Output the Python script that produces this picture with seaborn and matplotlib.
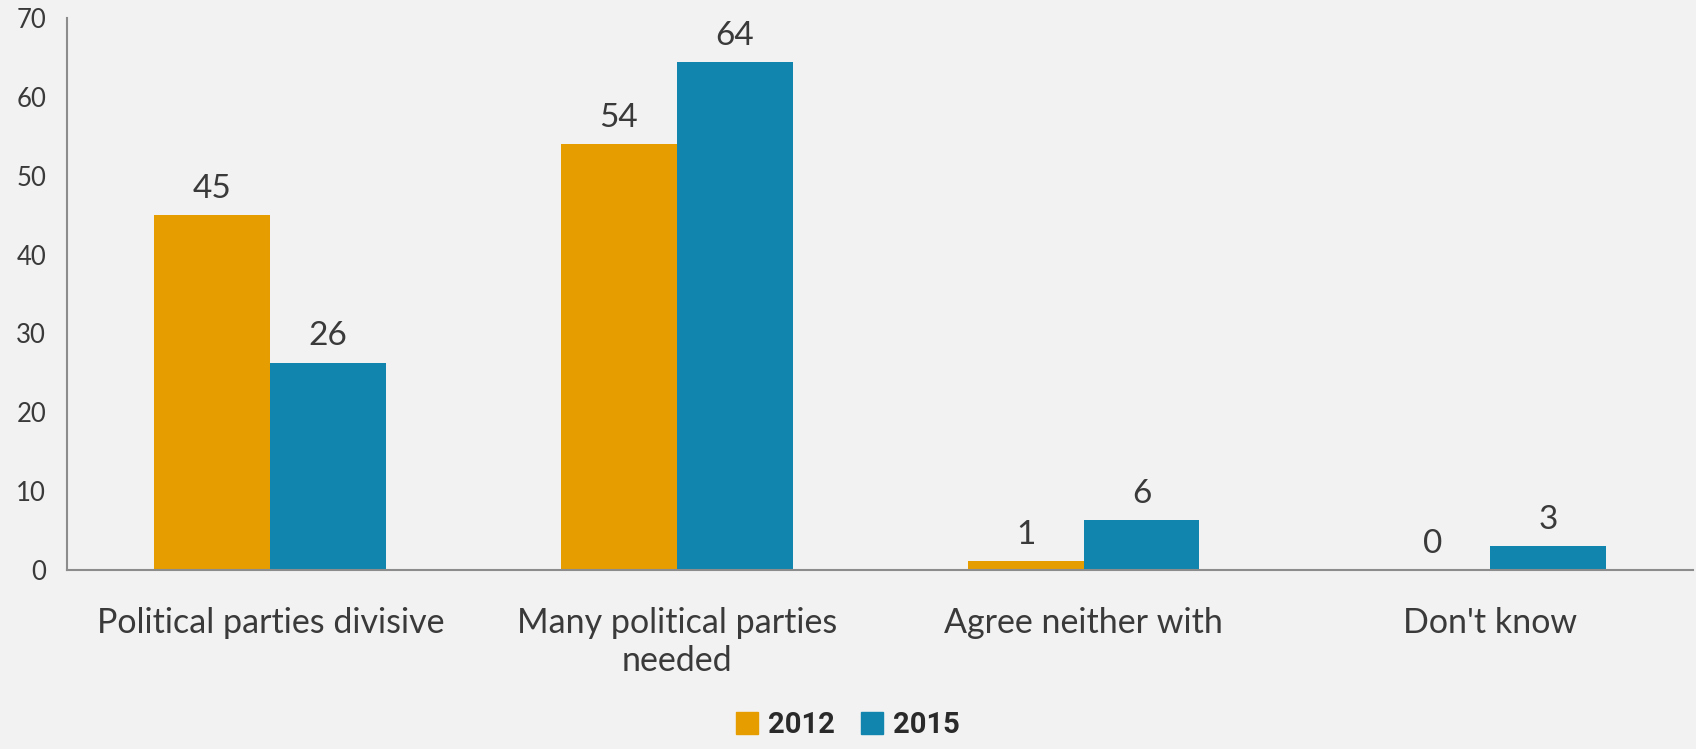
import matplotlib
matplotlib.use("Agg")
import matplotlib.pyplot as plt
import seaborn as sns
import pandas as pd

categories = ["Political parties divisive", "Many political parties\nneeded",
              "Agree neither with", "Don't know"]
years = ["2012", "2015"]
values_2012 = [45, 54, 1.1, 0]
values_2015 = [26.3, 64.4, 6.3, 3.0]
colors = {"2012": "#E59D00", "2015": "#1185AD"}

df = pd.DataFrame({
    "Category": categories * 2,
    "Year": [years[0]] * len(categories) + [years[1]] * len(categories),
    "Value": values_2012 + values_2015,
})

sns.set_theme(style="white")
plt.rcParams['font.family'] = ['Lato', 'DejaVu Sans']
text_col = "#3a3a3a"
spine_col = "#8c8c8c"

fig = plt.figure(figsize=(16.96, 7.49), dpi=100, facecolor="#f2f2f2")
ax = fig.add_axes([0.0395, 0.239, 0.959, 0.737])
ax.set_facecolor("#f2f2f2")

sns.barplot(data=df, x="Category", y="Value", hue="Year", palette=colors,
            width=0.57, saturation=1, linewidth=0, ax=ax, legend=True)

for cont in ax.containers:
    ax.bar_label(cont, fmt="%.0f", padding=8, fontsize=24, color=text_col)

ax.set_ylim(0, 70)
ax.set_yticks(range(0, 71, 10))
ax.set_xlim(-0.5, 3.5)
ax.set_xlabel("")
ax.set_ylabel("")

# category separators as minor ticks
ax.set_xticks([-0.5, 0.5, 1.5, 2.5, 3.5], minor=True)
ax.tick_params(axis="x", which="major", length=0, pad=27, labelsize=24.5, labelcolor=text_col)
ax.tick_params(axis="x", which="minor", length=10, width=1.5, color=spine_col, direction="out")
ax.tick_params(axis="y", length=9, width=1.5, color=spine_col, labelsize=18.5, labelcolor=text_col, pad=6)

for s in ["top", "right"]:
    ax.spines[s].set_visible(False)
for s in ["left", "bottom"]:
    ax.spines[s].set_color(spine_col)
    ax.spines[s].set_linewidth(1.5)

ax.get_legend().remove()
handles = [plt.Rectangle((0, 0), 1, 1, color=colors[y]) for y in years]
leg = fig.legend(handles, years, loc="lower center", bbox_to_anchor=(0.5, -0.022), ncol=2,
                 frameon=False, handlelength=0.75, handleheight=0.75, handletextpad=0.35,
                 columnspacing=0.9, prop={"family": "Roboto", "weight": "bold", "size": 21})
for t in leg.get_texts():
    t.set_color("#2a2a2a")

fig.savefig("out.png", dpi=100, facecolor=fig.get_facecolor())
